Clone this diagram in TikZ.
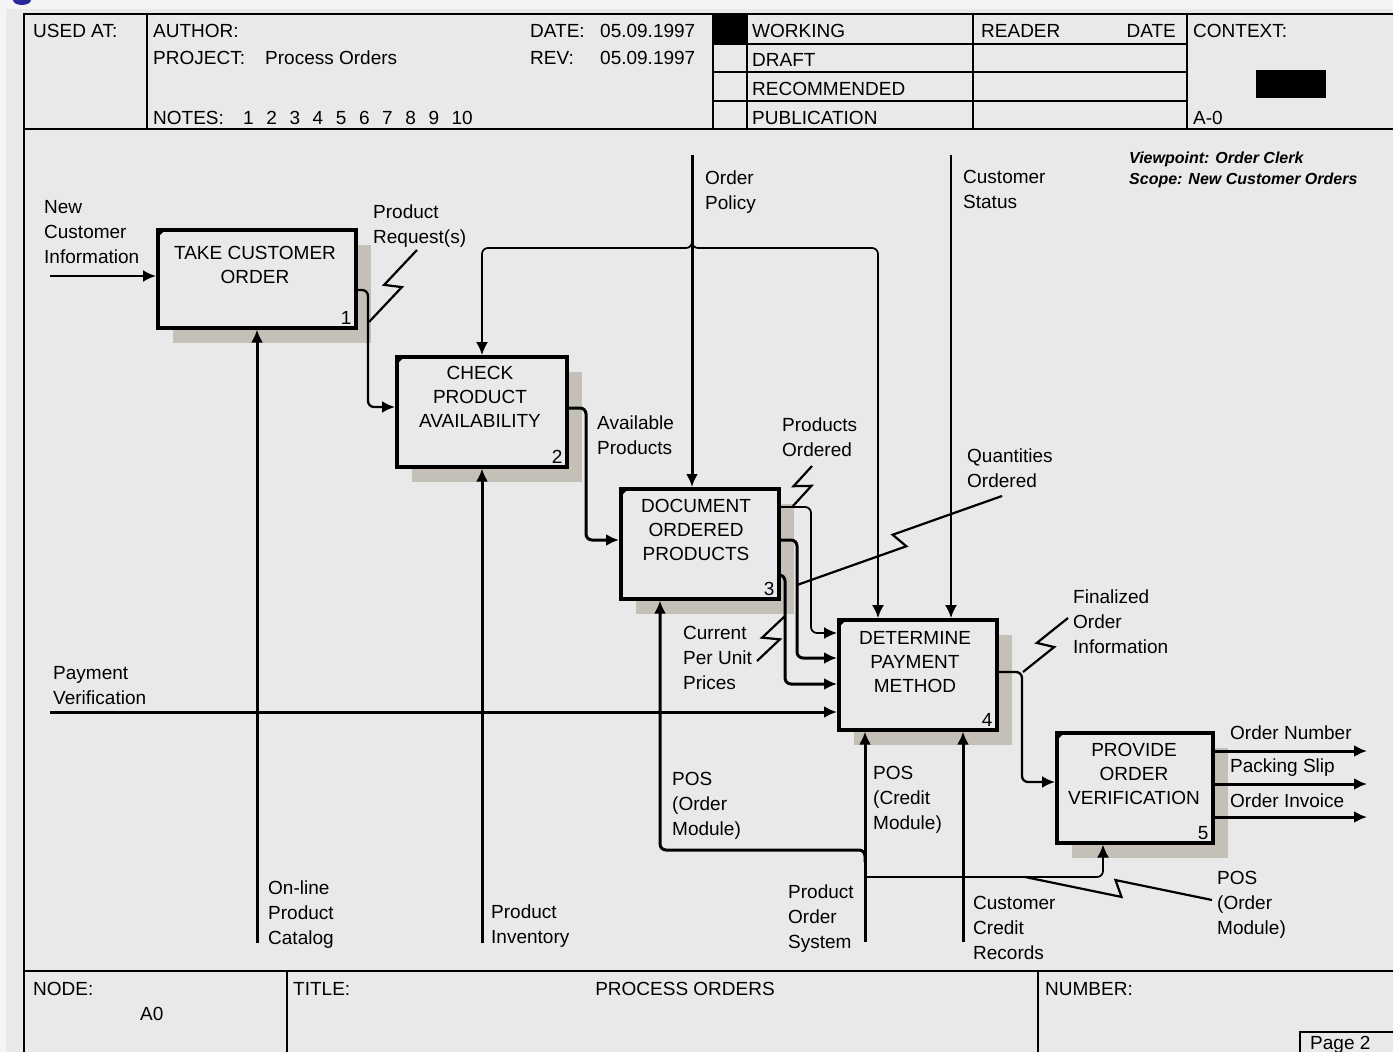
\documentclass[tikz,border=0pt]{standalone}
\usepackage{fontspec}
\setmainfont{Liberation Sans}
\usetikzlibrary{arrows.meta,calc,shadows}
\definecolor{bgc}{RGB}{233,233,233}
\definecolor{lite}{RGB}{244,244,244}
\definecolor{shadc}{RGB}{196,192,183}
\definecolor{blob}{RGB}{40,40,150}
\newcommand\squig[2]{%
  \path ($(#1)!0.5!(#2)$) coordinate (sqM);
  \path ($(sqM)!4pt!(#2)$) coordinate (sqP);
  \path ($(sqM)!-4pt!(#2)$) coordinate (sqQ);
  \path ($(sqP)!8pt!-90:(#2)$) coordinate (sqK);
  \path ($(sqQ)!8pt!90:(#2)$) coordinate (sqL);
  \draw[sqs] (#1) -- (sqK) -- (sqL) -- (#2);}
\begin{document}
\begin{tikzpicture}[x=1pt,y=-1pt,
  font=\fontsize{19}{25}\selectfont,
  frm/.style={line width=2.8pt},
  hd/.style={inner sep=0pt, anchor=base west},
  lbl/.style={inner sep=0pt, align=left, anchor=north west, font=\fontsize{19}{25}\selectfont},
  actbox/.style={draw, line width=3.6pt, fill=bgc, anchor=north west, inner sep=0pt,
     drop shadow={shadow xshift=15pt, shadow yshift=-15pt, fill=shadc, opacity=1}},
  btext/.style={inner sep=0pt, align=center, font=\fontsize{19}{24}\selectfont},
  num/.style={inner sep=0pt, anchor=south east},
  tip/.style={-{Latex[length=13pt,width=12pt]}},
  thk/.style={line width=3pt, tip},
  med/.style={line width=2.3pt, tip},
  thn/.style={line width=1.7pt, tip},
  sqs/.style={line width=2.2pt, line join=miter}
]
\useasboundingbox (0,0) rectangle (1393,1052);
\fill[bgc] (0,0) rectangle (1393,1052);
\fill[lite] (0,0) rectangle (1393,9);
\fill[lite] (0,0) rectangle (6,1052);
\fill[blob] (22,0) ellipse (9pt and 5pt);

% ---------- header ----------
\draw[frm] (1393,14) -- (24,14) -- (24,1052);
\draw[frm] (24,129) -- (1393,129);
\draw[frm] (147,14) -- (147,129);
\draw[frm] (713,14) -- (713,129);
\draw[frm] (747,14) -- (747,129);
\draw[frm] (973,14) -- (973,129);
\draw[frm] (1187,14) -- (1187,129);
\draw[frm] (713,44) -- (1187,44) (713,72) -- (1187,72) (713,101) -- (1187,101);
\fill (713,14) rectangle (747,44);
\fill (1256,70) rectangle (1326,98);

\node[hd] (usedat) at (33,37) {USED AT:};
\node[hd] (author) at (153,37) {AUTHOR:};
\node[hd] (date) at (530,37) {DATE:};
\node[hd] (dateval) at (600,37) {05.09.1997};
\node[hd] (project) at (153,64) {PROJECT:};
\node[hd] (projval) at (265,64) {Process Orders};
\node[hd] (rev) at (530,64) {REV:};
\node[hd] (revval) at (600,64) {05.09.1997};
\node[hd] (notes) at (153,124) {NOTES:};
\node[hd] (notesval) at (243,124) {1\hspace{12.6pt}2\hspace{12.6pt}3\hspace{12.6pt}4\hspace{12.6pt}5\hspace{12.6pt}6\hspace{12.6pt}7\hspace{12.6pt}8\hspace{12.6pt}9\hspace{12.6pt}10};
\node[hd] (working) at (752,37) {WORKING};
\node[hd] (draft) at (752,66) {DRAFT};
\node[hd] (recom) at (752,95) {RECOMMENDED};
\node[hd] (publ) at (752,124) {PUBLICATION};
\node[hd] (reader) at (981,37) {READER};
\node[inner sep=0pt, anchor=base east] (rdate) at (1176,37) {DATE};
\node[hd] (context) at (1193,37) {CONTEXT:};
\node[hd] (azero) at (1193,124) {A-0};

% ---------- footer ----------
\draw[frm] (24,971) -- (1393,971);
\draw[frm] (287,971) -- (287,1052);
\draw[frm] (1038,971) -- (1038,1052);
\draw[line width=1.5pt] (1300,1052) -- (1300,1032) -- (1393,1032);
\node[hd] (nodelbl) at (33,995) {NODE:};
\node[hd] (nodeval) at (140,1020) {A0};
\node[hd] (titlelbl) at (293,995) {TITLE:};
\node[inner sep=0pt, anchor=base] (titleval) at (685,995) {PROCESS ORDERS};
\node[hd] (numberlbl) at (1045,995) {NUMBER:};
\node[hd] (page) at (1310,1049) {Page 2};

% viewpoint
\node[hd, font=\fontsize{16}{20}\selectfont\bfseries\itshape] (vp) at (1129,163) {Viewpoint: Order Clerk};
\node[hd, font=\fontsize{16}{20}\selectfont\bfseries\itshape] (scope) at (1129,184) {Scope: New Customer Orders};

% ---------- activity boxes ----------
\node[actbox, minimum width=198pt, minimum height=98pt] (b1) at (156,228) {};
\node[actbox, minimum width=170pt, minimum height=110pt] (b2) at (395,355) {};
\node[actbox, minimum width=158pt, minimum height=110pt] (b3) at (619,487) {};
\node[actbox, minimum width=158pt, minimum height=110pt] (b4) at (837,618) {};
\node[actbox, minimum width=156pt, minimum height=110pt] (b5) at (1055,731) {};
\foreach \b in {b1,b2,b3,b4,b5}{\fill ($(\b.north west)+(1.5,1.5)$) -- ++(8,0) -- ++(-8,8) -- cycle;}

\node[btext] (t1) at (255,265) {TAKE CUSTOMER\\ORDER};
\node[btext] (t2) at (480,397) {CHECK\\PRODUCT\\AVAILABILITY};
\node[btext] (t3) at (696,530) {DOCUMENT\\ORDERED\\PRODUCTS};
\node[btext] (t4) at (915,662) {DETERMINE\\PAYMENT\\METHOD};
\node[btext] (t5) at (1134,774) {PROVIDE\\ORDER\\VERIFICATION};
\node[num] (n1) at ($(b1.south east)+(-6,-5)$) {1};
\node[num] (n2) at ($(b2.south east)+(-6,-5)$) {2};
\node[num] (n3) at ($(b3.south east)+(-6,-5)$) {3};
\node[num] (n4) at ($(b4.south east)+(-6,-5)$) {4};
\node[num] (n5) at ($(b5.south east)+(-6,-5)$) {5};

% ---------- labels ----------
\node[lbl] (l-nci) at (44,200) {New\\Customer\\Information};
\node[lbl] (l-pr) at (373,205) {Product\\Request(s)};
\node[lbl] (l-op) at (705,171) {Order\\Policy};
\node[lbl] (l-cs) at (963,170) {Customer\\Status};
\node[lbl] (l-ap) at (597,416) {Available\\Products};
\node[lbl] (l-po) at (782,418) {Products\\Ordered};
\node[lbl] (l-qo) at (967,449) {Quantities\\Ordered};
\node[lbl] (l-cpu) at (683,626) {Current\\Per Unit\\Prices};
\node[lbl] (l-pv) at (53,666) {Payment\\Verification};
\node[lbl] (l-foi) at (1073,590) {Finalized\\Order\\Information};
\node[hd] (l-on) at (1230,739) {Order Number};
\node[hd] (l-ps) at (1230,772) {Packing Slip};
\node[hd] (l-oi) at (1230,807) {Order Invoice};
\node[lbl] (l-opc) at (268,881) {On-line\\Product\\Catalog};
\node[lbl] (l-pi) at (491,905) {Product\\Inventory};
\node[lbl] (l-posl) at (672,772) {POS\\(Order\\Module)};
\node[lbl] (l-posc) at (873,766) {POS\\(Credit\\Module)};
\node[lbl] (l-pos) at (788,885) {Product\\Order\\System};
\node[lbl] (l-ccr) at (973,896) {Customer\\Credit\\Records};
\node[lbl] (l-posr) at (1217,871) {POS\\(Order\\Module)};

% ---------- connectors ----------
% inputs
\coordinate (nci) at (50,276);
\draw[med] (nci) -- (nci -| b1.west);
\coordinate (pv) at (50,712);
\draw[thk] (pv) -- (pv -| b4.west);

% box 1 -> box 2
\draw[med, rounded corners=6pt] (b1.east |- 0,290) -- (368,290) -- (368,407) -- (b2.west |- 0,407);
% box 2 -> box 3
\draw[thk, rounded corners=6pt] (b2.east |- 0,408) -- (586,408) -- (586,540) -- (b3.west |- 0,540);
% box 3 -> box 4
\draw[thn, rounded corners=6pt] (b3.east |- 0,507) -- (811,507) -- (811,633) -- (b4.west |- 0,633);
\draw[thk, rounded corners=6pt] (b3.east |- 0,540) -- (797,540) -- (797,658) -- (b4.west |- 0,658);
\draw[thk, rounded corners=6pt] (b3.east |- 0,575) -- (785,575) -- (785,684) -- (b4.west |- 0,684);
% box 4 -> box 5
\draw[med, rounded corners=6pt] (b4.east |- 0,672) -- (1022,672) -- (1022,782) -- (b5.west |- 0,782);
% outputs
\coordinate (onum) at (1367,751);
\coordinate (pslip) at (1367,784);
\coordinate (oinv) at (1367,817);
\draw[thk] (b5.east |- onum) -- (onum);
\draw[thk] (b5.east |- pslip) -- (pslip);
\draw[thk] (b5.east |- oinv) -- (oinv);

% controls
\coordinate (op) at (692,155);
\draw[thk] (op) -- (op |- b3.north);
\coordinate (opj) at (692,238);
\coordinate (b2c) at (482,248);
\draw[thn, rounded corners=6pt] (opj) |- (b2c) -- (b2c |- b2.north);
\draw[thn, rounded corners=6pt] (opj) |- (878,248) -- ($(b4.north west)+(41,0)$);
\coordinate (cs) at (951,155);
\draw[thn] (cs) -- (cs |- b4.north);

% mechanisms
\coordinate (opc) at (257,943);
\draw[thk] (opc) -- (opc |- b1.south);
\coordinate (pinv) at (482,943);
\draw[thk] (pinv) -- (pinv |- b2.south);
\coordinate (pos) at (865,942);
\draw[thk] (pos) -- (pos |- b4.south);
\coordinate (ccr) at (963,942);
\draw[thk] (ccr) -- (ccr |- b4.south);
\coordinate (posj) at (865,862);
\draw[thk, rounded corners=6pt] (posj) |- (660,850) -- ($(b3.south west)+(41,0)$);
\coordinate (posk) at (865,877);
\draw[thn, rounded corners=6pt] (posk) -| ($(b5.south west)+(48,0)$);

% squiggles
\coordinate (sqA1) at (369,322); \coordinate (sqB1) at (417,250);
\squig{sqA1}{sqB1}
\coordinate (sqA2) at (793,506); \coordinate (sqB2) at (812,466);
\squig{sqA2}{sqB2}
\coordinate (sqA3) at (797,585); \coordinate (sqB3) at (1002,496);
\squig{sqA3}{sqB3}
\coordinate (sqA4) at (757,661); \coordinate (sqB4) at (785,616);
\squig{sqA4}{sqB4}
\coordinate (sqA5) at (1023,672); \coordinate (sqB5) at (1068,618);
\squig{sqA5}{sqB5}
\coordinate (sqA6) at (1025,877); \coordinate (sqB6) at (1212,900);
\squig{sqA6}{sqB6}
\end{tikzpicture}
\end{document}
